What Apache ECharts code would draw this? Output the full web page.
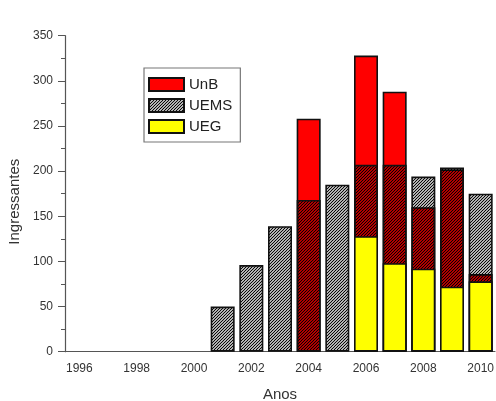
<!DOCTYPE html>
<html>
<head>
<meta charset="utf-8">
<script src="https://cdn.jsdelivr.net/npm/echarts@6/dist/echarts.min.js"></script>
<style>
  html, body { margin: 0; padding: 0; background: #fff; }
  #chart { width: 496px; height: 401px; }
</style>
</head>
<body>
<div id="chart"></div>
<script>
// Yearly intake per university
const years = ['1996','1997','1998','1999','2000','2001','2002','2003','2004','2005','2006','2007','2008','2009','2010'];
const unb  = [null, null, null, null, null, null, null, null, 258, null, 328, 288, 160, 202, 86];
const uems = [null, null, null, null, null, 50, 96, 139, 168, 185, 207, 207, 194, 204, 175];
const ueg  = [null, null, null, null, null, null, null, null, null, null, 128, 98, 92, 72, 78];
const yTicks = { min: 0, max: 350, interval: 50 };

// Diagonal hatch tile (transparent background, black stripes)
function hatchPattern() {
  const c = document.createElement('canvas');
  const s = 3;
  c.width = s; c.height = s;
  const g = c.getContext('2d');
  g.strokeStyle = '#000';
  g.lineWidth = 1.15;
  for (let k = -1; k <= 1; k++) {
    g.beginPath();
    g.moveTo(k * s - 1, s + 1);
    g.lineTo(k * s + s + 1, -1);
    g.stroke();
  }
  return { image: c, repeat: 'repeat' };
}
const hatch = hatchPattern();

const chart = echarts.init(document.getElementById('chart'), null, { renderer: 'canvas' });
const font = 'Liberation Sans, Arial, sans-serif';
const border = { borderColor: '#111', borderWidth: 1.6 };

chart.setOption({
  animation: false,
  backgroundColor: '#fff',
  grid: { left: 65, right: 1, top: 35.7, bottom: 49.3, containLabel: false, outerBoundsMode: 'none' },
  legend: {
    orient: 'vertical',
    left: 144, top: 68,
    padding: [9, 8, 8, 4],
    itemWidth: 35, itemHeight: 13, itemGap: 6,
    icon: 'rect',
    borderColor: '#777', borderWidth: 1.2,
    backgroundColor: '#fff',
    textStyle: { fontFamily: font, fontSize: 15, color: '#222', padding: [0, 0, 0, 0] },
    data: ['UnB', 'UEMS', 'UEG']
  },
  xAxis: [{
    type: 'category',
    data: years,
    boundaryGap: true,
    name: 'Anos',
    nameLocation: 'middle',
    nameGap: 36,
    nameTextStyle: { fontFamily: font, fontSize: 15, color: '#333' },
    axisLine: { lineStyle: { color: '#555', width: 1.2 } },
    axisTick: { alignWithLabel: true, length: 7, interval: 1, lineStyle: { color: '#555' } },
    axisLabel: { interval: 1, fontFamily: font, fontSize: 12, color: '#333', margin: 11 },
    splitLine: { show: false }
  }, {
    type: 'category',
    data: years,
    position: 'bottom',
    boundaryGap: true,
    axisLine: { show: false },
    axisTick: { alignWithLabel: true, length: 4, interval: (i) => i % 2 === 1, lineStyle: { color: '#555' } },
    axisLabel: { show: false },
    splitLine: { show: false }
  }],
  yAxis: {
    type: 'value',
    min: yTicks.min, max: yTicks.max, interval: yTicks.interval,
    name: 'Ingressantes',
    nameLocation: 'middle',
    nameGap: 40,
    nameTextStyle: { fontFamily: font, fontSize: 15, color: '#333', padding: [0, 16, 0, 0] },
    axisLine: { show: true, lineStyle: { color: '#555', width: 1.2 } },
    axisTick: { show: true, length: 7, lineStyle: { color: '#555' } },
    minorTick: { show: true, splitNumber: 2, length: 4, lineStyle: { color: '#555' } },
    axisLabel: { fontFamily: font, fontSize: 12, color: '#333', margin: 12 },
    splitLine: { show: false }
  },
  series: [
    { name: 'UnB', type: 'bar', data: unb, barWidth: 24, barGap: '-100%',
      itemStyle: Object.assign({ color: '#ff0000' }, border) },
    { name: 'UEMS', type: 'bar', data: uems, barWidth: 24, barGap: '-100%',
      itemStyle: Object.assign({ color: hatch }, border) },
    { name: 'UEG', type: 'bar', data: ueg, barWidth: 24, barGap: '-100%',
      itemStyle: Object.assign({ color: '#ffff00' }, border) }
  ]
});
</script>
</body>
</html>
